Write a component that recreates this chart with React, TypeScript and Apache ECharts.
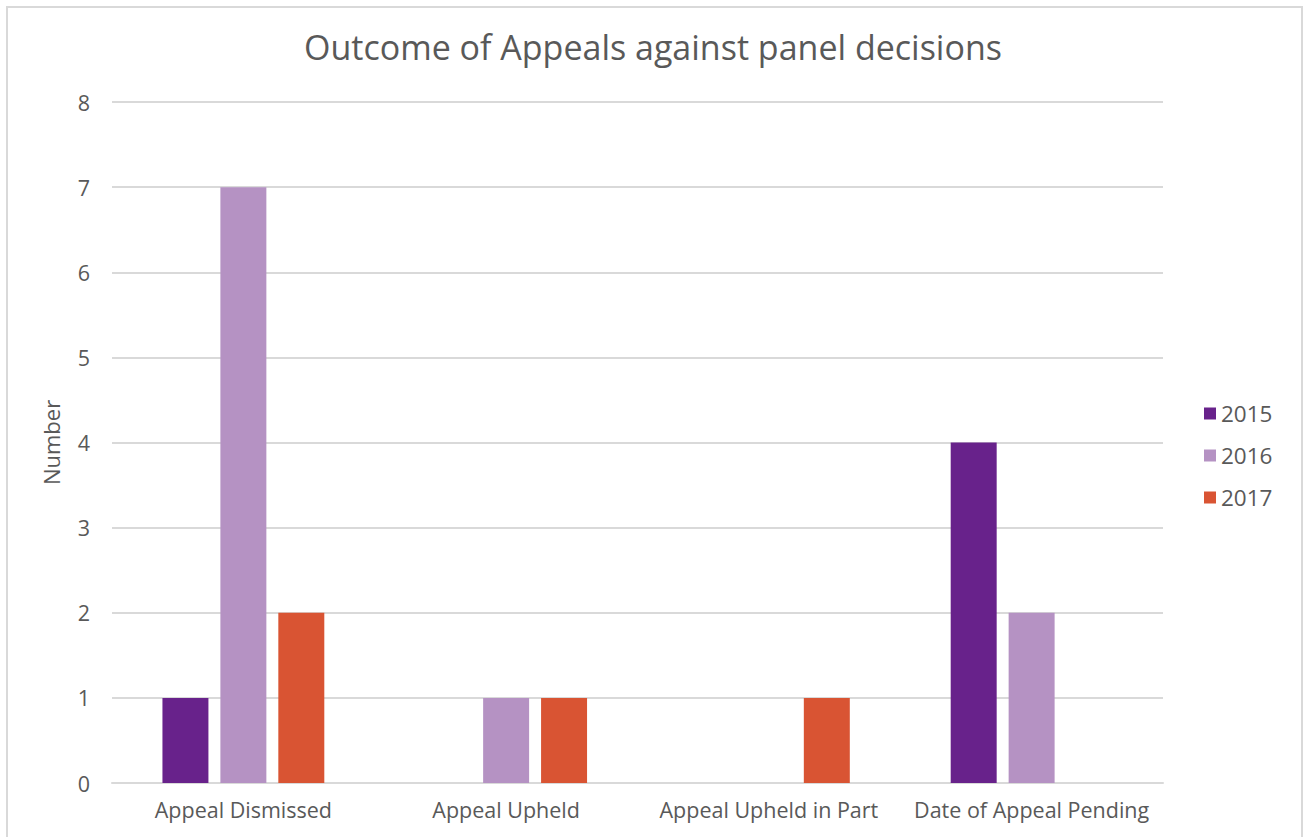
import React, { useEffect, useRef } from "react";
import * as echarts from "echarts";

const categories = ["Appeal Dismissed", "Appeal Upheld", "Appeal Upheld in Part", "Date of Appeal Pending"];
const seriesNames = ["2015", "2016", "2017"];
const values2015 = [1, null, null, 4];
const values2016 = [7, 1, null, 2];
const values2017 = [2, 1, 1, null];
const colors = ["#68228B", "#B592C3", "#D95433"];
const yTicks = { min: 0, max: 8, interval: 1 };

export default function App() {
  const ref = useRef<HTMLDivElement>(null);
  useEffect(() => {
    if (!ref.current) return;
    const chart = echarts.init(ref.current, null, { renderer: "svg" });
    const font = "Open Sans, Lato, sans-serif";
    const dataSets = [values2015, values2016, values2017];
    chart.setOption({
      animation: false,
      backgroundColor: "#ffffff",
      textStyle: { fontFamily: font },
      title: {
        text: "Outcome of Appeals against panel decisions",
        left: "center",
        top: 25,
        textStyle: { fontSize: 34, fontWeight: "normal", color: "#595959", fontFamily: font },
      },
      graphic: [
        {
          type: "rect",
          shape: { x: 7, y: 7, width: 1295, height: 840 },
          style: { fill: "none", stroke: "#d9d9d9", lineWidth: 2 },
          silent: true,
        },
      ],
      legend: {
        orient: "vertical",
        left: 1199,
        top: 397,
        itemWidth: 12,
        itemHeight: 12,
        itemGap: 19,
        icon: "rect",
        textStyle: { fontSize: 22.5, color: "#595959", fontFamily: font },
        data: seriesNames,
      },
      grid: { left: 112, right: 143, top: 102, bottom: 54, containLabel: false },
      xAxis: {
        type: "category",
        data: categories,
        axisTick: { show: false },
        axisLine: { show: true, lineStyle: { color: "#d9d9d9", width: 2 } },
        axisLabel: { fontSize: 21.5, color: "#595959", margin: 15, interval: 0, fontFamily: font },
      },
      yAxis: {
        type: "value",
        min: yTicks.min,
        max: yTicks.max,
        interval: yTicks.interval,
        name: "Number",
        nameLocation: "middle",
        nameGap: 50,
        nameTextStyle: { fontSize: 22, color: "#595959", fontFamily: font },
        axisLine: { show: false },
        axisTick: { show: false },
        axisLabel: { fontSize: 21.5, color: "#595959", margin: 22, fontFamily: font },
        splitLine: { lineStyle: { color: "#d9d9d9", width: 2 } },
      },
      series: seriesNames.map((name, i) => ({
        name,
        type: "bar",
        data: dataSets[i],
        barWidth: "17.5%",
        barGap: "26%",
        itemStyle: { color: colors[i] },
      })),
    });
    return () => chart.dispose();
  }, []);
  return <div ref={ref} style={{ position: "fixed", left: 0, top: 0, width: 1306, height: 837 }} />;
}
